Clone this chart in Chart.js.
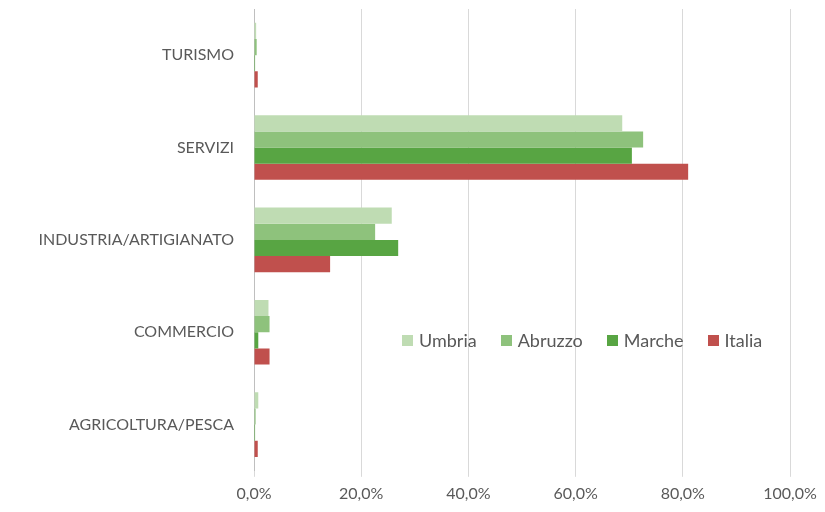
<!DOCTYPE html>
<html>
<head>
<meta charset="utf-8">
<script src="https://cdn.jsdelivr.net/npm/chart.js@4.4.1/dist/chart.umd.min.js"></script>
<style>
  html, body { margin: 0; padding: 0; background: #fff; }
  #wrap { position: relative; width: 825px; height: 512px; }
  canvas { display: block; }
  #legend { position: absolute; left: 402px; top: 329px; display: flex; font-family: Lato, sans-serif; font-size: 18px; color: #595959; }
  #legend span.item { display: flex; align-items: center; margin-right: 24px; }
  #legend span.box { width: 11px; height: 11px; margin-right: 6px; display: inline-block; }
</style>
</head>
<body>
<div id="wrap">
  <canvas id="myChart" width="825" height="512"></canvas>
  <div id="legend"></div>
</div>
<script>
const categories = ['TURISMO', 'SERVIZI', 'INDUSTRIA/ARTIGIANATO', 'COMMERCIO', 'AGRICOLTURA/PESCA'];
const seriesNames = ['Umbria', 'Abruzzo', 'Marche', 'Italia'];
const umbria = [0.4, 68.7, 25.7, 2.7, 0.8];
const abruzzo = [0.5, 72.6, 22.6, 2.9, 0.3];
const marche = [0.2, 70.5, 26.9, 0.8, 0.2];
const italia = [0.7, 81.0, 14.2, 2.9, 0.7];
const xTicks = [0, 20, 40, 60, 80, 100];

const colors = ['#bfdcb3', '#8ec27c', '#58a543', '#c0504d'];
const values = [umbria, abruzzo, marche, italia];

const ctx = document.getElementById('myChart');

new Chart(ctx, {
  type: 'bar',
  data: {
    labels: categories,
    datasets: seriesNames.map((name, i) => ({
      label: name,
      data: values[i],
      backgroundColor: colors[i],
      borderWidth: 0,
      categoryPercentage: 0.7,
      barPercentage: 1.0
    }))
  },
  options: {
    indexAxis: 'y',
    responsive: false,
    animation: false,
    layout: { padding: { top: 9, right: 35, left: 4, bottom: 2 } },
    plugins: {
      legend: { display: false },
      tooltip: { enabled: false }
    },
    scales: {
      x: {
        min: 0,
        max: 100,
        afterBuildTicks: (axis) => { axis.ticks = xTicks.map(v => ({ value: v })); },
        grid: { color: '#d9d9d9', tickLength: 6, drawTicks: true },
        border: { display: false },
        ticks: {
          color: '#595959',
          font: { family: 'Lato', size: 16 },
          padding: 7,
          callback: (v) => v.toFixed(1).replace('.', ',') + '%'
        }
      },
      y: {
        afterFit: (axis) => {
          axis.width = 250;
          axis.paddingTop = 0;
          axis.paddingBottom = 0;
        },
        grid: { display: false },
        border: { display: true, color: '#bfbfbf' },
        ticks: {
          color: '#595959',
          font: { family: 'Lato', size: 16 },
          padding: 12
        }
      }
    }
  }
});

const legend = document.getElementById('legend');
seriesNames.forEach((name, i) => {
  const item = document.createElement('span');
  item.className = 'item';
  item.innerHTML = '<span class="box" style="background:' + colors[i] + '"></span>' + name;
  legend.appendChild(item);
});
</script>
</body>
</html>
